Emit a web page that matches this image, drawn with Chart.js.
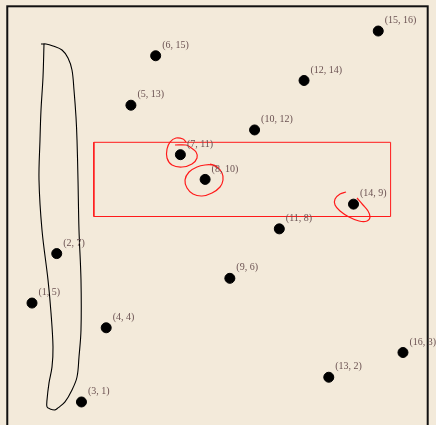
<!DOCTYPE html>
<html>
<head>
<meta charset="utf-8">
<script src="https://cdn.jsdelivr.net/npm/chart.js@4/dist/chart.umd.min.js"></script>
<style>
  html, body { margin: 0; padding: 0; background: #f3eada; overflow: hidden; }
  #wrap { width: 436px; height: 425px; overflow: hidden; }
</style>
</head>
<body>
<div id="wrap"><canvas id="c" width="436" height="440"></canvas></div>
<script>
// Data points
const xs = [1, 2, 3, 4, 5, 6, 7, 8, 9, 10, 11, 12, 13, 14, 15, 16];
const ys = [5, 7, 1, 4, 13, 15, 11, 10, 6, 12, 8, 14, 2, 9, 16, 3];
const pointLabels = xs.map((x, i) => '(' + x + ', ' + ys[i] + ')');

// Axis ranges
const xRange = [0, 17];
const yRange = [0, 17];

// Red highlight rectangle (data coords)
const rectX = [3.5, 15.5, 15.5, 3.5, 3.5];
const rectY = [8.5, 8.5, 11.5, 11.5, 8.5];

// Black freehand outline (data coords)
const blobX = [1.364, 1.566, 1.849, 2.213, 2.456, 2.617, 2.698, 2.779, 2.820, 2.860, 2.900, 2.981, 2.981, 2.900, 2.820, 2.617, 2.334, 2.051, 1.930, 1.728, 1.607, 1.607, 1.688, 1.809, 1.849, 1.769, 1.647, 1.404, 1.283, 1.323, 1.364, 1.445, 1.485];
const blobY = [15.475, 15.475, 15.394, 15.233, 14.909, 14.424, 13.615, 12.523, 11.593, 9.976, 7.954, 5.932, 3.910, 2.818, 2.010, 1.484, 1.003, 0.760, 0.679, 0.720, 0.801, 1.084, 1.771, 2.418, 3.227, 4.601, 5.936, 7.954, 9.976, 11.593, 12.806, 14.140, 15.475];

// Red scribbles (data coords)
const loopAX = [6.782, 7.227, 7.389, 7.632, 7.672, 7.470, 7.066, 6.661, 6.459, 6.459, 6.581, 6.824, 7.107, 7.227];
const loopAY = [11.391, 11.391, 11.310, 11.108, 10.865, 10.623, 10.501, 10.582, 10.865, 11.229, 11.512, 11.674, 11.633, 11.512];
const loopBX = [8.521, 8.279, 7.995, 7.672, 7.349, 7.187, 7.268, 7.510, 7.874, 8.279, 8.602, 8.723, 8.683, 8.440, 8.198];
const loopBY = [10.461, 10.582, 10.582, 10.501, 10.299, 9.976, 9.652, 9.410, 9.329, 9.450, 9.693, 9.976, 10.259, 10.542, 10.623];
const loopCX = [13.697, 13.455, 13.253, 13.253, 13.455, 13.819, 14.223, 14.547, 14.668, 14.587, 14.385, 14.142];
const loopCY = [9.491, 9.410, 9.208, 8.965, 8.722, 8.480, 8.318, 8.318, 8.480, 8.722, 8.965, 9.248];

const zip = (a, b) => a.map((v, i) => ({ x: v, y: b[i] }));

function lineSet(data, color, width) {
  return {
    type: 'line', data: data, borderColor: color, borderWidth: width,
    pointRadius: 0, fill: false, tension: 0.35, showLine: true, parsing: false
  };
}

const bgPlugin = {
  id: 'bg',
  beforeDraw(chart) {
    const ctx = chart.ctx;
    ctx.save();
    ctx.fillStyle = '#f3eada';
    ctx.fillRect(0, 0, chart.width, chart.height);
    ctx.restore();
  },
  afterDraw(chart) {
    const a = chart.chartArea, ctx = chart.ctx;
    ctx.save();
    ctx.strokeStyle = '#111111';
    ctx.lineWidth = 2;
    ctx.strokeRect(a.left, a.top, a.right - a.left, a.bottom - a.top);
    // point labels
    const meta = chart.getDatasetMeta(0);
    ctx.fillStyle = '#6b5252';
    ctx.font = '10px "Liberation Serif", "DejaVu Serif", serif';
    ctx.textBaseline = 'middle';
    ctx.textAlign = 'left';
    meta.data.forEach((el, i) => {
      ctx.fillText(pointLabels[i], el.x + 6.5, el.y - 10.5);
    });
    ctx.restore();
  }
};

new Chart(document.getElementById('c'), {
  type: 'scatter',
  data: {
    datasets: [
      {
        data: zip(xs, ys), backgroundColor: '#000000', borderColor: '#000000',
        pointRadius: 5, pointHoverRadius: 5, showLine: false, order: 0
      },
      Object.assign(lineSet(zip(blobX, blobY), '#000000', 1.1), { order: 5 }),
      Object.assign(lineSet(zip(rectX, rectY), '#ff1a1a', 1), { tension: 0, order: 4 }),
      Object.assign(lineSet(zip(loopAX, loopAY), '#ff1a1a', 1.2), { order: 3 }),
      Object.assign(lineSet(zip(loopBX, loopBY), '#ff1a1a', 1.2), { order: 3 }),
      Object.assign(lineSet(zip(loopCX, loopCY), '#ff1a1a', 1.2), { order: 3 })
    ]
  },
  options: {
    responsive: false,
    animation: false,
    events: [],
    layout: { padding: { left: 7.27, top: 6.3, right: 8.3, bottom: 13.3 } },
    plugins: { legend: { display: false }, tooltip: { enabled: false } },
    scales: {
      x: { type: 'linear', min: xRange[0], max: xRange[1], display: false },
      y: { type: 'linear', min: yRange[0], max: yRange[1], display: false }
    }
  },
  plugins: [bgPlugin]
});
</script>
</body>
</html>
